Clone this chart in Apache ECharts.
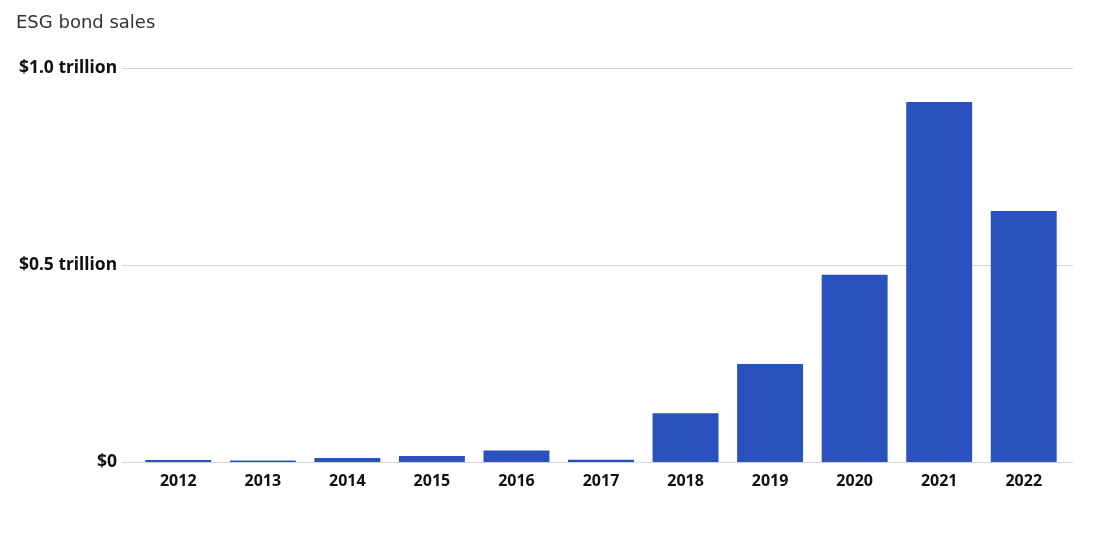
<!DOCTYPE html>
<html>
<head>
<meta charset="utf-8">
<script src="https://cdn.jsdelivr.net/npm/echarts@6/dist/echarts.min.js"></script>
<style>
  html, body { margin: 0; padding: 0; background: #fff; }
  #chart { width: 1098px; height: 548px; }
</style>
</head>
<body>
<div id="chart"></div>
<script>
// ESG bond sales, trillions of dollars
const years = ["2012", "2013", "2014", "2015", "2016", "2017", "2018", "2019", "2020", "2021", "2022"];
const sales = [0.005, 0.004, 0.010, 0.015, 0.029, 0.006, 0.124, 0.249, 0.475, 0.914, 0.637];
const tickLabels = { 0: "$0", 0.5: "$0.5 trillion", 1: "$1.0 trillion" };

const chart = echarts.init(document.getElementById("chart"));

const font = "'Noto Sans', sans-serif";

const option = {
  animation: false,
  title: {
    text: "ESG bond sales",
    left: 11,
    top: 9,
    textStyle: { fontFamily: "'DejaVu Sans', sans-serif", fontSize: 18, fontWeight: "normal", color: "#333" }
  },
  grid: [
    // grid for gridlines + y labels
    { left: 122, right: 25, top: 68, bottom: 86 },
    // grid for bars
    { left: 136, right: 32, top: 68, bottom: 86 }
  ],
  xAxis: [
    { gridIndex: 0, type: "category", data: years, show: false },
    {
      gridIndex: 1,
      type: "category",
      data: years,
      axisLine: { show: false },
      axisTick: { show: false },
      axisLabel: { fontFamily: font, fontSize: 16, fontWeight: "bold", color: "#111", margin: 11 }
    }
  ],
  yAxis: [
    {
      gridIndex: 0,
      type: "value",
      min: 0,
      max: 1,
      interval: 0.5,
      axisLine: { show: false },
      axisTick: { show: false },
      axisLabel: {
        fontFamily: font,
        fontSize: 17.5,
        fontWeight: "bold",
        color: "#111",
        margin: 5,
        formatter: (v) => tickLabels[v] || ""
      },
      splitLine: { lineStyle: { color: "#d4d4d4", width: 1 } }
    },
    { gridIndex: 1, type: "value", min: 0, max: 1, show: false }
  ],
  series: [
    {
      type: "bar",
      xAxisIndex: 1,
      yAxisIndex: 1,
      data: sales,
      barCategoryGap: "22%",
      itemStyle: { color: "#2a52bf" }
    }
  ]
};

chart.setOption(option);
</script>
</body>
</html>
